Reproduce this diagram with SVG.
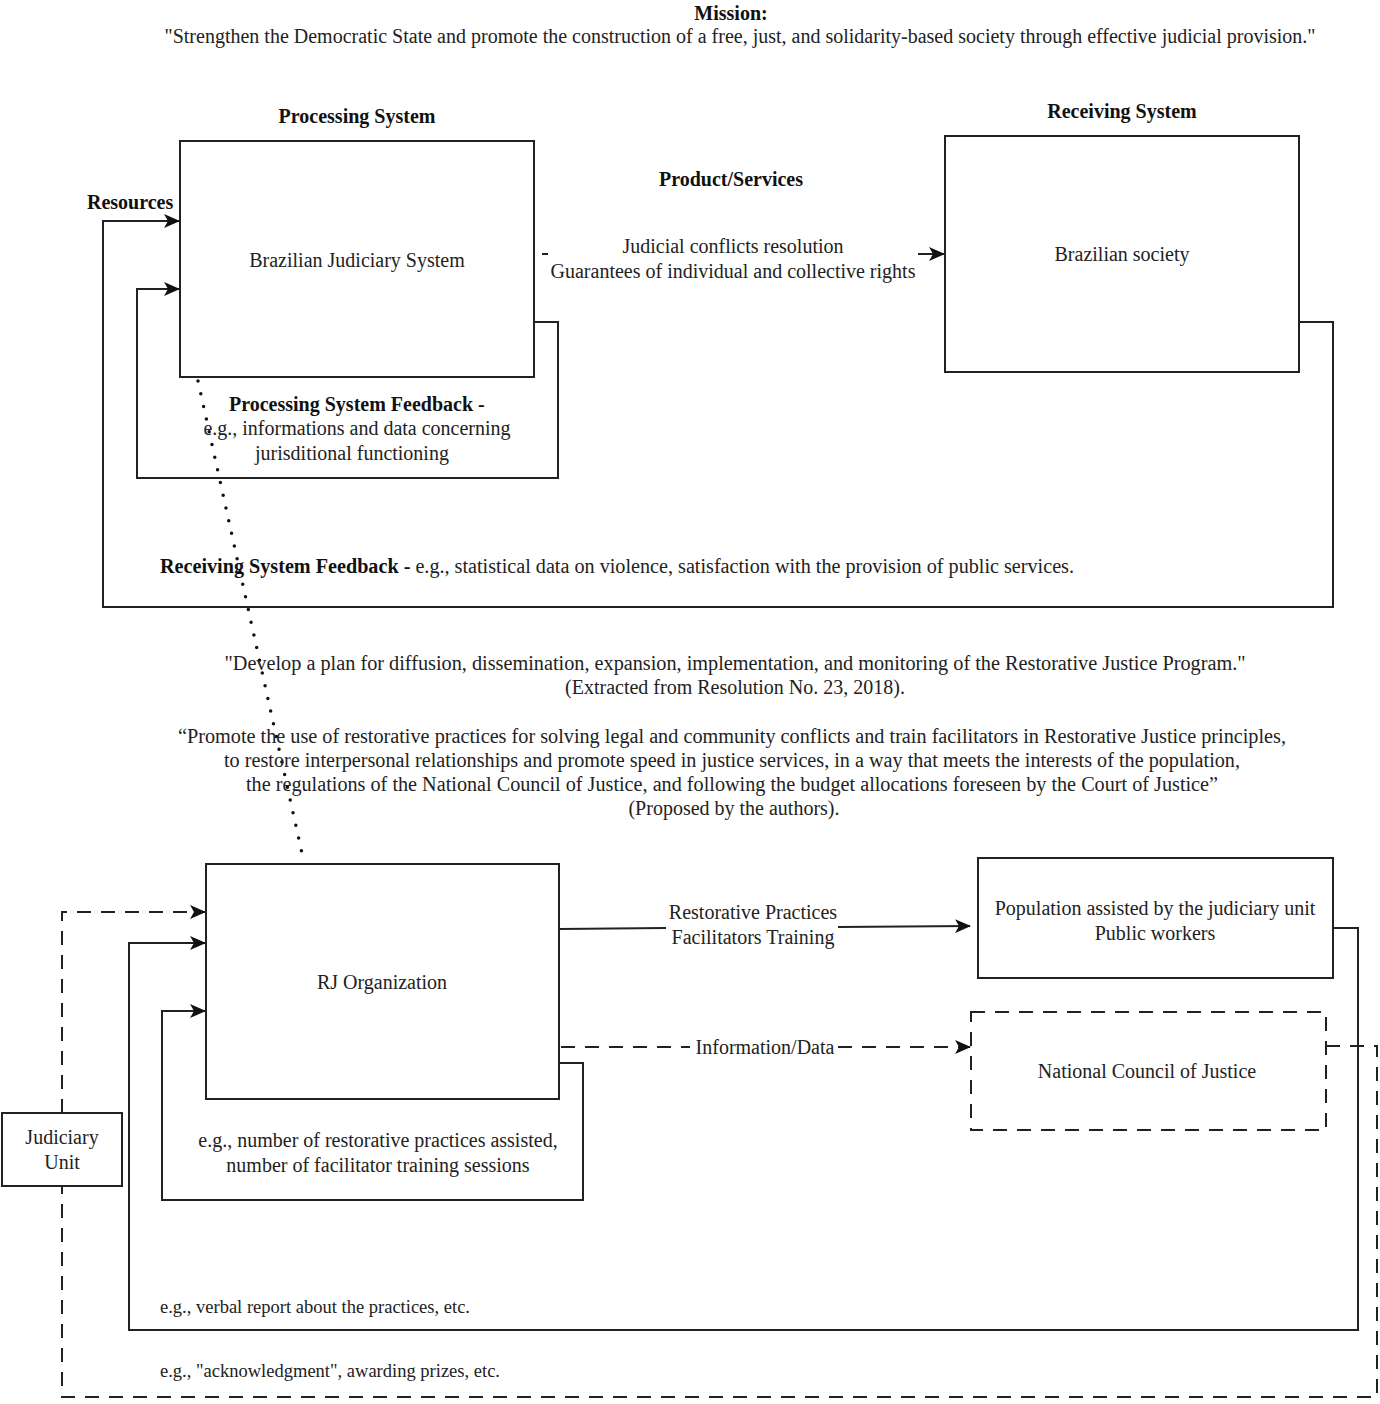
<svg xmlns="http://www.w3.org/2000/svg" width="1380" height="1404" viewBox="0 0 1380 1404">
<defs>
<style>
text{font-family:"Liberation Serif","Times New Roman",serif;fill:#222;font-size:20px}
.b{font-weight:bold;fill:#111}
.c{text-anchor:middle}
.s{font-size:18.5px}
.box{fill:none;stroke:#222;stroke-width:2}
.ln{fill:none;stroke:#222;stroke-width:2}
.dash{fill:none;stroke:#222;stroke-width:2;stroke-dasharray:14 10}
.dot{fill:none;stroke:#111;stroke-width:3.5;stroke-linecap:round;stroke-dasharray:0 13}
</style>
<marker id="ar" viewBox="0 0 16 14" refX="15" refY="7" markerWidth="16" markerHeight="14" markerUnits="userSpaceOnUse" orient="auto">
<path d="M0,0 L16,7 L0,14 L4,7 z" fill="#111"/>
</marker>
</defs>
<rect width="1380" height="1404" fill="#fff"/>

<g id="mission">
<text class="b c" x="731" y="20">Mission:</text>
<text class="c" x="740" y="43" textLength="1151" lengthAdjust="spacingAndGlyphs">"Strengthen the Democratic State and promote the construction of a free, just, and solidarity-based society through effective judicial provision."</text>
</g>

<g id="connectors">
<polyline class="ln" points="1299,322 1333,322 1333,607 103,607 103,221 179,221" marker-end="url(#ar)"/>
<polyline class="ln" points="534,322 558,322 558,478 137,478 137,289 179,289" marker-end="url(#ar)"/>
<line class="ln" x1="542" y1="254" x2="548" y2="254"/>
<line class="ln" x1="918" y1="254" x2="944" y2="254" marker-end="url(#ar)"/>
<line class="dot" x1="198" y1="381" x2="303" y2="858"/>
<line class="ln" x1="559" y1="929" x2="666" y2="928"/>
<line class="ln" x1="838" y1="927" x2="970" y2="926" marker-end="url(#ar)"/>
<line class="dash" x1="561" y1="1047" x2="690" y2="1047"/>
<line class="dash" x1="838" y1="1047" x2="970" y2="1047" marker-end="url(#ar)"/>
<polyline class="ln" points="559,1063 583,1063 583,1200 162,1200 162,1011 205,1011" marker-end="url(#ar)"/>
<polyline class="ln" points="1333,928 1358,928 1358,1330 129,1330 129,943 205,943" marker-end="url(#ar)"/>
<polyline class="dash" points="1326,1046 1377,1046 1377,1397 62,1397 62,1186"/>
<polyline class="dash" points="62,1113 62,912 205,912" marker-end="url(#ar)"/>
</g>

<g id="processing">
<text class="b c" x="357" y="123">Processing System</text>
<rect class="box" x="180" y="141" width="354" height="236"/>
<text class="c" x="357" y="267">Brazilian Judiciary System</text>
<text class="b" x="87" y="209">Resources</text>
<text class="b" x="229" y="411">Processing System Feedback -</text>
<text class="c" x="357" y="435">e.g., informations and data concerning</text>
<text class="c" x="352" y="460">jurisditional functioning</text>
</g>

<g id="product">
<text class="b c" x="731" y="186">Product/Services</text>
<text class="c" x="733" y="253">Judicial conflicts resolution</text>
<text class="c" x="733" y="278">Guarantees of individual and collective rights</text>
</g>

<g id="receiving">
<text class="b c" x="1122" y="118">Receiving System</text>
<rect class="box" x="945" y="136" width="354" height="236"/>
<text class="c" x="1122" y="261">Brazilian society</text>
</g>

<g id="receiving-feedback">
<text x="160" y="573" textLength="914" lengthAdjust="spacingAndGlyphs"><tspan class="b">Receiving System Feedback -</tspan> e.g., statistical data on violence, satisfaction with the provision of public services.</text>
</g>

<g id="objectives">
<text class="c" x="735" y="670" textLength="1021" lengthAdjust="spacingAndGlyphs">"Develop a plan for diffusion, dissemination, expansion, implementation, and monitoring of the Restorative Justice Program."</text>
<text class="c" x="735" y="694">(Extracted from Resolution No. 23, 2018).</text>
<text class="c" x="732" y="743" textLength="1108" lengthAdjust="spacingAndGlyphs">“Promote the use of restorative practices for solving legal and community conflicts and train facilitators in Restorative Justice principles,</text>
<text class="c" x="732" y="767" textLength="1016" lengthAdjust="spacingAndGlyphs">to restore interpersonal relationships and promote speed in justice services, in a way that meets the interests of the population,</text>
<text class="c" x="732" y="791" textLength="972" lengthAdjust="spacingAndGlyphs">the regulations of the National Council of Justice, and following the budget allocations foreseen by the Court of Justice”</text>
<text class="c" x="734" y="815">(Proposed by the authors).</text>
</g>

<g id="rj">
<rect class="box" x="206" y="864" width="353" height="235"/>
<text class="c" x="382" y="989">RJ Organization</text>
<text class="c" x="378" y="1147">e.g., number of restorative practices assisted,</text>
<text class="c" x="378" y="1172">number of facilitator training sessions</text>
</g>

<g id="rj-output">
<text class="c" x="753" y="919">Restorative Practices</text>
<text class="c" x="753" y="944">Facilitators Training</text>
<text class="c" x="765" y="1054">Information/Data</text>
</g>

<g id="population">
<rect class="box" x="978" y="858" width="355" height="120"/>
<text class="c" x="1155" y="915">Population assisted by the judiciary unit</text>
<text class="c" x="1155" y="940">Public workers</text>
</g>

<g id="ncj">
<rect class="dash" x="971" y="1012" width="355" height="118"/>
<text class="c" x="1147" y="1078">National Council of Justice</text>
</g>

<g id="judiciary-unit">
<rect class="box" x="2" y="1113" width="120" height="73"/>
<text class="c" x="62" y="1144">Judiciary</text>
<text class="c" x="62" y="1169">Unit</text>
</g>

<g id="loop-labels">
<text class="s" x="160" y="1313" textLength="310" lengthAdjust="spacingAndGlyphs">e.g., verbal report about the practices, etc.</text>
<text class="s" x="160" y="1377" textLength="340" lengthAdjust="spacingAndGlyphs">e.g., "acknowledgment", awarding prizes, etc.</text>
</g>
</svg>
